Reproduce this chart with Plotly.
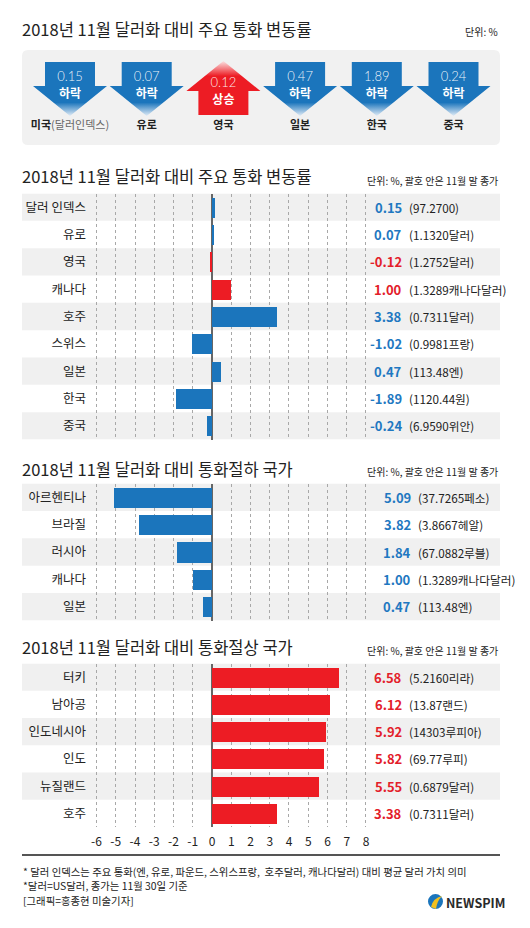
import plotly.graph_objects as go

# The page body adds an 8px margin, so the figure is drawn 8px smaller and
# all pixel positions below are given in window pixels.
OFF = 8
W, H = 530 - OFF, 928 - OFF
FONT = "Noto Sans CJK KR"
BLUE = "#1b75bc"
RED = "#ed1c24"
NUM_BLUE = "#1f78c1"
NUM_RED = "#e3202a"
BAND = "#f0f0f0"
DARK = "#222222"

# ---------------- data ----------------
top_names = ["미국", "유로", "영국", "일본", "한국", "중국"]
top_sub = ["(달러인덱스)", "", "", "", "", ""]
top_values = [0.15, 0.07, 0.12, 0.47, 1.89, 0.24]
top_dirs = ["하락", "하락", "상승", "하락", "하락", "하락"]

s1_names = ["달러 인덱스", "유로", "영국", "캐나다", "호주", "스위스", "일본", "한국", "중국"]
s1_values = [0.15, 0.07, -0.12, 1.00, 3.38, -1.02, 0.47, -1.89, -0.24]
s1_close = ["97.2700", "1.1320달러", "1.2752달러", "1.3289캐나다달러", "0.7311달러",
            "0.9981프랑", "113.48엔", "1120.44원", "6.9590위안"]
s1_tone = ["b", "b", "r", "r", "b", "b", "b", "b", "b"]

s2_names = ["아르헨티나", "브라질", "러시아", "캐나다", "일본"]
s2_values = [5.09, 3.82, 1.84, 1.00, 0.47]
s2_close = ["37.7265페소", "3.8667헤알", "67.0882루블", "1.3289캐나다달러", "113.48엔"]

s3_names = ["터키", "남아공", "인도네시아", "인도", "뉴질랜드", "호주"]
s3_values = [6.58, 6.12, 5.92, 5.82, 5.55, 3.38]
s3_close = ["5.2160리라", "13.87랜드", "14303루피아", "69.77루피", "0.6879달러", "0.7311달러"]

axis_ticks = [-6, -5, -4, -3, -2, -1, 0, 1, 2, 3, 4, 5, 6, 7, 8]


def px(p):
    return (p - OFF) / W


def py(p):
    return 1 - (p - OFF) / H


fig = go.Figure()

XRANGE = [-6.5, 8.5]
XDOM = [px(86.9), px(375.6)]

sections = [
    (s1_names, s1_values, s1_close,
     [BLUE if t == "b" else RED for t in s1_tone],
     [NUM_BLUE if t == "b" else NUM_RED for t in s1_tone],
     s1_values, 193.5, 439.5, 404, 407),
    (s2_names, [-v for v in s2_values], s2_close,
     [BLUE] * len(s2_values), [NUM_BLUE] * len(s2_values),
     s2_values, 483.5, 620.5, 413, 416),
    (s3_names, s3_values, s3_close,
     [RED] * len(s3_values), [NUM_RED] * len(s3_values),
     s3_values, 663.5, 827.0, 404, 407),
]

shapes = []
annotations = []

for k, (names, bars, closes, bcol, ncol, shown, ytop, ybot, nx, parx) in enumerate(sections):
    sfx = "" if k == 0 else str(k + 1)
    xa, ya = "x" + sfx, "y" + sfx
    n = len(names)
    idx = list(range(n))
    fig.add_trace(go.Bar(
        x=bars, y=idx, orientation="h", width=0.74,
        marker=dict(color=bcol, line=dict(width=0)),
        xaxis=xa, yaxis=ya, showlegend=False, hoverinfo="skip"))
    last = (k == 2)
    fig.update_layout(**{
        ("xaxis" + sfx): dict(
            domain=XDOM, range=XRANGE, anchor=ya,
            tickmode="array", tickvals=axis_ticks,
            ticktext=[str(t) for t in axis_ticks],
            showticklabels=last, ticks="outside" if last else "",
            ticklen=4, tickcolor="rgba(0,0,0,0)",
            tickfont=dict(size=12, color=DARK, family=FONT),
            showgrid=True, gridcolor="#a8a8a8", griddash="dot", gridwidth=1,
            zeroline=True, zerolinecolor="#666666", zerolinewidth=2,
            showline=False, fixedrange=True),
        ("yaxis" + sfx): dict(
            domain=[py(ybot), py(ytop)], range=[n - 0.5, -0.5], anchor=xa,
            tickmode="array", tickvals=idx, ticktext=names,
            tickfont=dict(size=12.5, color=DARK, family=FONT),
            ticks="", showgrid=False, zeroline=False, showline=False, fixedrange=True),
    })
    for i in idx:
        if i % 2 == 0:
            shapes.append(dict(type="rect", xref="paper", yref=ya,
                               x0=px(22), x1=px(500), y0=i - 0.5, y1=i + 0.5,
                               fillcolor=BAND, line=dict(width=0), layer="below"))
        annotations.append(dict(
            xref="paper", yref=ya, x=px(nx), y=i, xanchor="right", yanchor="middle",
            text=f"<b>{shown[i]:.2f}</b>", showarrow=False,
            font=dict(size=13, color=ncol[i], family=FONT)))
        annotations.append(dict(
            xref="paper", yref=ya, x=px(parx), y=i, xanchor="left", yanchor="middle",
            text=f"({closes[i]})", showarrow=False,
            font=dict(size=11.7, color=DARK, family=FONT)))

# ---------------- top arrow panel ----------------
r = 6
x0, x1, y0, y1 = 22, 500, 50, 145
path = (f"M {px(x0 + r)},{py(y0)} L {px(x1 - r)},{py(y0)} "
        f"Q {px(x1)},{py(y0)} {px(x1)},{py(y0 + r)} L {px(x1)},{py(y1 - r)} "
        f"Q {px(x1)},{py(y1)} {px(x1 - r)},{py(y1)} L {px(x0 + r)},{py(y1)} "
        f"Q {px(x0)},{py(y1)} {px(x0)},{py(y1 - r)} L {px(x0)},{py(y0 + r)} "
        f"Q {px(x0)},{py(y0)} {px(x0 + r)},{py(y0)} Z")
shapes.append(dict(type="path", xref="paper", yref="paper", path=path,
                   fillcolor="#f1f1f1", line=dict(width=0), layer="below"))

UNIT = 76.7  # px per arrow slot
r0 = -(70 - 22) / UNIT
fig.update_layout(
    xaxis4=dict(domain=[px(22), px(500)], range=[r0, r0 + 478 / UNIT], visible=False,
                anchor="y4", fixedrange=True),
    yaxis4=dict(domain=[py(145), py(50)], range=[145, 50], visible=False,
                anchor="x4", fixedrange=True),
)

HW = 37 / UNIT
SW = 25 / UNIT
for i, (nm, v, d) in enumerate(zip(top_names, top_values, top_dirs)):
    if d == "하락":
        xs = [i - SW, i + SW, i + SW, i + HW, i, i - HW, i - SW, i - SW]
        ys = [62, 62, 86, 86, 116, 86, 86, 62]
        grad = [[0, "#e2ecf6"], [0.25, BLUE], [1, BLUE]]
        vy, dy = 78, 95
    else:
        xs = [i, i + HW, i + SW, i + SW, i - SW, i - SW, i - HW, i]
        ys = [61, 91, 91, 115, 115, 91, 91, 61]
        grad = [[0, RED], [0.72, RED], [1, "#fbe3e3"]]
        vy, dy = 84, 101
    fig.add_trace(go.Scatter(
        x=xs, y=ys, mode="lines", fill="toself",
        fillgradient=dict(type="vertical", colorscale=grad),
        line=dict(width=0), xaxis="x4", yaxis="y4",
        showlegend=False, hoverinfo="skip"))
    fig.add_trace(go.Scatter(
        x=[i], y=[vy], mode="text", text=[f"{v:.2f}"],
        textfont=dict(size=13, color="rgba(255,255,255,0.92)", family="Lato", weight=300),
        xaxis="x4", yaxis="y4", showlegend=False, hoverinfo="skip"))
    fig.add_trace(go.Scatter(
        x=[i], y=[dy], mode="text", text=[f"<b>{d}</b>"],
        textfont=dict(size=12, color="white", family=FONT),
        xaxis="x4", yaxis="y4", showlegend=False, hoverinfo="skip"))
    label = f"<b>{nm}</b>"
    if top_sub[i]:
        label += f"<span style='color:#666'>{top_sub[i]}</span>"
    fig.add_trace(go.Scatter(
        x=[i], y=[126], mode="text", text=[label],
        textfont=dict(size=11, color=DARK, family=FONT),
        xaxis="x4", yaxis="y4", showlegend=False, hoverinfo="skip"))


# ---------------- titles & notes ----------------
def txt(x, y, s, size, color=DARK, anchor="left"):
    annotations.append(dict(xref="paper", yref="paper", x=px(x), y=py(y),
                            xanchor=anchor, yanchor="middle", text=s, showarrow=False,
                            font=dict(size=size, color=color, family=FONT)))


TITLE = 16.5
txt(20, 29, "2018년 11월 달러화 대비 주요 통화 변동률", TITLE)
txt(500, 31, "단위: %", 10, anchor="right")
txt(20, 176, "2018년 11월 달러화 대비 주요 통화 변동률", TITLE)
txt(500, 180, "단위: %, 괄호 안은 11월 말 종가", 10, anchor="right")
txt(20, 469, "2018년 11월 달러화 대비 통화절하 국가", TITLE)
txt(500, 471, "단위: %, 괄호 안은 11월 말 종가", 10, anchor="right")
txt(20, 647, "2018년 11월 달러화 대비 통화절상 국가", TITLE)
txt(500, 650, "단위: %, 괄호 안은 11월 말 종가", 10, anchor="right")

shapes.append(dict(type="line", xref="paper", yref="paper",
                   x0=px(22), x1=px(500), y0=py(855), y1=py(855),
                   line=dict(color="#555555", width=2)))

txt(21, 871, "* 달러 인덱스는 주요 통화(엔, 유로, 파운드, 스위스프랑,  호주달러, 캐나다달러) 대비 평균 달러 가치 의미", 10.4)
txt(21, 885, "*달러=US달러, 종가는 11월 30일 기준", 10.4)
txt(21, 900, "[그래픽=홍종현 미술기자]", 10.4)

# NEWSPIM logo
shapes.append(dict(type="circle", xref="paper", yref="paper",
                   x0=px(428), x1=px(443), y0=py(909), y1=py(894),
                   fillcolor="#1b75bc", line=dict(width=0)))
shapes.append(dict(type="path", xref="paper", yref="paper",
                   path=(f"M {px(431)},{py(907)} Q {px(433)},{py(898)} {px(442)},{py(896)} "
                         f"Q {px(437)},{py(901)} {px(436)},{py(909)} Z"),
                   fillcolor="#f2c01e", line=dict(width=0)))
txt(444, 902, "<b>NEWSPIM</b>", 12.5, color="#2a2a2a")

fig.update_layout(
    width=W, height=H, margin=dict(l=0, r=0, t=0, b=0),
    paper_bgcolor="white", plot_bgcolor="rgba(0,0,0,0)",
    font=dict(family=FONT, color=DARK),
    shapes=shapes, annotations=annotations, bargap=0, showlegend=False,
)

fig.write_html("out.html")
